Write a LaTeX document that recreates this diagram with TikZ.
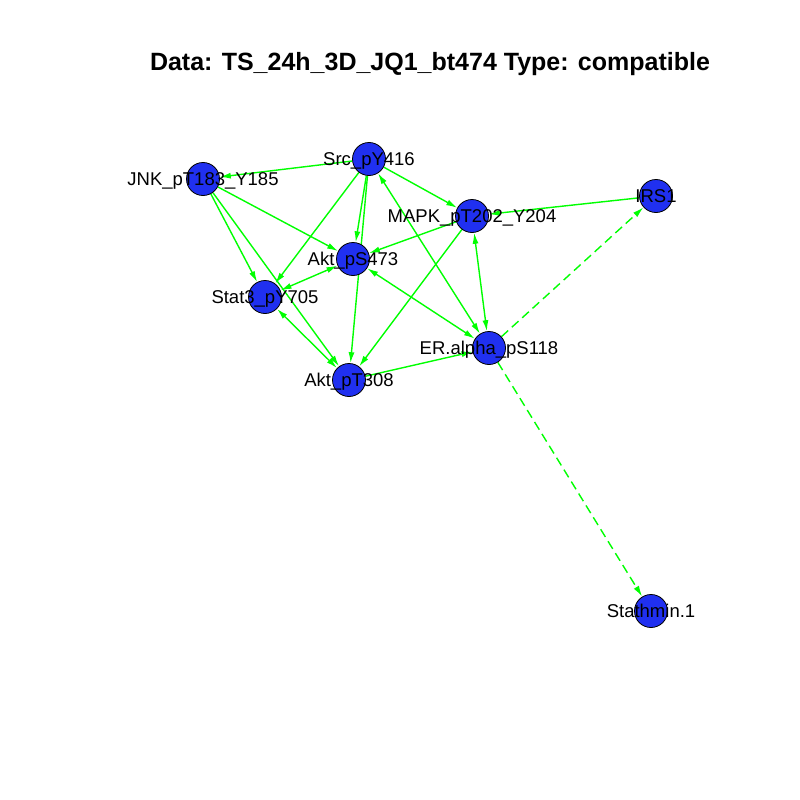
\documentclass[tikz,border=0pt]{standalone}
\usepackage{fontspec}
\setmainfont{Liberation Sans}
\usetikzlibrary{arrows.meta}
\definecolor{vblue}{RGB}{32,48,240}
\definecolor{egreen}{RGB}{0,255,0}
\pgfdeclarelayer{edges}
\pgfsetlayers{edges,main}
\tikzset{
  vertex/.style={circle,draw=black,fill=vblue,minimum size=33bp,inner sep=0pt,line width=0.8bp},
  vtext/.style={font=\fontsize{18.5bp}{20bp}\selectfont,inner sep=0pt,text height=13.3bp,text depth=0bp},
  link/.style={draw=egreen,line width=1.4bp,-{Latex[length=11bp,width=6bp]}},
  twoway/.style={link,{Latex[length=11bp,width=6bp]}-{Latex[length=11bp,width=6bp]}},
  dashlink/.style={link,dash pattern=on 9bp off 5bp}
}
\begin{document}
\begin{tikzpicture}[x=1bp,y=-1bp]
      \useasboundingbox (0,0) rectangle (800,800);
      \node[font=\bfseries\fontsize{25bp}{28bp}\selectfont,anchor=base] (title) at (430,71)
        {Data: TS\_24h\_3D\_JQ1\_bt474 Type: compatible};
      % vertices
      \node[vertex,label={[vtext]center:Src\_pY416}] (src) at (369,159) {};
      \node[vertex,label={[vtext]center:JNK\_pT183\_Y185}] (jnk) at (203,179) {};
      \node[vertex,label={[vtext]center:MAPK\_pT202\_Y204}] (mapk) at (472,216) {};
      \node[vertex,label={[vtext]center:IRS1}] (irs) at (656,196) {};
      \node[vertex,label={[vtext]center:Akt\_pS473}] (akts) at (353,259) {};
      \node[vertex,label={[vtext]center:Stat3\_pY705}] (stat) at (265,297) {};
      \node[vertex,label={[vtext]center:ER.alpha\_pS118}] (er) at (489,348) {};
      \node[vertex,label={[vtext]center:Akt\_pT308}] (aktt) at (349,380) {};
      \node[vertex,label={[vtext]center:Stathmin.1}] (stath) at (651,611) {};
      % edges
      \begin{pgfonlayer}{edges}
      \fill[white] (0,0) rectangle (800,800);
      \draw[link] (src) -- (jnk);
      \draw[link] (src) -- (mapk);
      \draw[link] (src) -- (akts);
      \draw[link] (src) -- (aktt);
      \draw[link] (src) -- (stat);
      \draw[twoway] (src) -- (er);
      \draw[link] (jnk) -- (stat);
      \draw[link] (jnk) -- (akts);
      \draw[link] (jnk) -- (aktt);
      \draw[link] (mapk) -- (akts);
      \draw[link] (mapk) -- (aktt);
      \draw[twoway] (mapk) -- (er);
      \draw[link] (irs) -- (mapk);
      \draw[twoway] (akts) -- (stat);
      \draw[twoway] (akts) -- (er);
      \draw[twoway] (stat) -- (aktt);
      \draw[link] (aktt) -- (er);
      \draw[dashlink] (er) -- (irs);
      \draw[dashlink] (er) -- (stath);
      \end{pgfonlayer}
    \end{tikzpicture}
\end{document}
